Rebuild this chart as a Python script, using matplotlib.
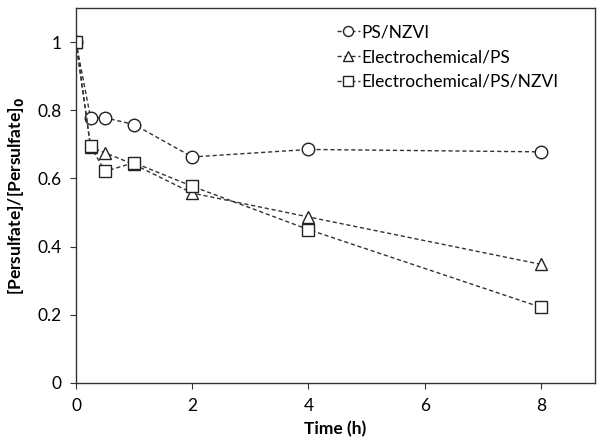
import matplotlib.pyplot as plt

# Datos
tiempo = [0, 0.25, 0.5, 1, 2, 4, 8]
ps_nzvi = [1.0, 0.778, 0.778, 0.758, 0.663, 0.685, 0.678]
electro_ps = [1.0, 0.692, 0.675, 0.641, 0.557, 0.487, 0.348]
electro_ps_nzvi = [1.0, 0.694, 0.621, 0.646, 0.577, 0.450, 0.222]

x_ticks = [0, 2, 4, 6, 8]
y_ticks = [0, 0.2, 0.4, 0.6, 0.8, 1]

plt.rcParams['font.family'] = ['Lato', 'DejaVu Sans']

fig = plt.figure(figsize=(6, 4.46), dpi=100)
ax = fig.add_axes([0.1267, 0.1413, 0.865, 0.8408])

estilo = dict(color='#333333', linestyle=(0, (3, 2)), linewidth=1.0,
              markersize=9, markerfacecolor='white', markeredgecolor='#222222',
              markeredgewidth=1.0)
ax.plot(tiempo, ps_nzvi, marker='o', label='PS/NZVI', **estilo)
ax.plot(tiempo, electro_ps, marker='^', label='Electrochemical/PS', **estilo)
ax.plot(tiempo, electro_ps_nzvi, marker='s', label='Electrochemical/PS/NZVI', **estilo)

ax.set_xlim(0, 8.93)
ax.set_ylim(0, 1.1)
ax.set_xticks(x_ticks)
ax.set_xticklabels([str(t) for t in x_ticks])
ax.set_yticks(y_ticks)
ax.set_yticklabels(['0', '0.2', '0.4', '0.6', '0.8', '1'])
ax.tick_params(direction='out', length=4.5, labelsize=12.5, pad=6, color='#333333')

for lado in ax.spines.values():
    lado.set_color('#333333')
    lado.set_linewidth(1.0)

ax.set_xlabel('Time (h)', fontsize=12.5, fontweight='bold', labelpad=5)
ax.set_ylabel('[Persulfate]/[Persulfate]$_\\mathbf{0}$', fontsize=12.5, fontweight='bold', labelpad=8)

ax.legend(loc='center left', bbox_to_anchor=(0.5617, 0.872), bbox_transform=fig.transFigure,
          frameon=False, fontsize=12.5, borderpad=0, borderaxespad=0,
          handlelength=1.3, handletextpad=0.1, labelspacing=0.5, markerscale=0.8)

fig.savefig('out.png', dpi=100)
